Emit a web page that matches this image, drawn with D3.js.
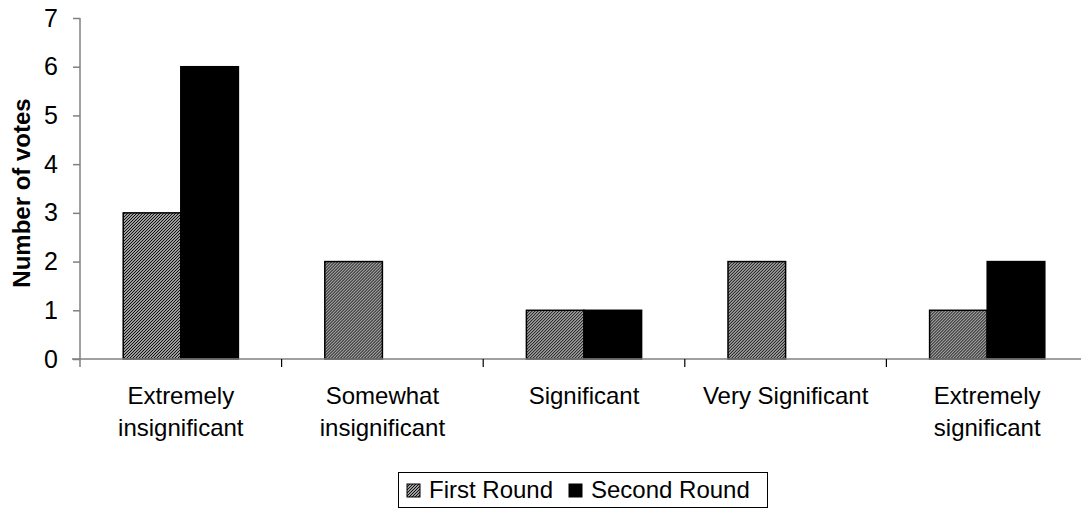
<!DOCTYPE html>
<html>
<head>
<meta charset="utf-8">
<script src="https://cdn.jsdelivr.net/npm/d3@7"></script>
<style>
  html, body { margin: 0; padding: 0; background: #fff; }
  svg { display: block; font-family: "Liberation Sans", Arial, sans-serif; }
</style>
</head>
<body>
<svg id="chart" width="1081" height="513"></svg>
<script>
// Vote counts per significance rating
const categories = [
  ["Extremely", "insignificant"],
  ["Somewhat", "insignificant"],
  ["Significant"],
  ["Very Significant"],
  ["Extremely", "significant"]
];
const seriesNames = ["First Round", "Second Round"];
const firstRound = [3, 2, 1, 2, 1];
const secondRound = [6, 0, 1, 0, 2];
const yTicks = [0, 1, 2, 3, 4, 5, 6, 7];

const svg = d3.select("#chart");
const catKeys = categories.map(c => c.join(" "));

const plot = { left: 80, top: 18, bottom: 359, step: 201.6 };

// fine hatched fill for the first series
const defs = svg.append("defs");
const pat = defs.append("pattern")
  .attr("id", "hatch")
  .attr("patternUnits", "userSpaceOnUse")
  .attr("width", 3).attr("height", 3);
pat.append("rect").attr("width", 3).attr("height", 3).attr("fill", "#9c9c9c");
pat.append("path")
  .attr("d", "M-1,1 l2,-2 M0,3 l3,-3 M2,4 l2,-2")
  .attr("stroke", "#111").attr("stroke-width", 1);

const x0 = d3.scaleBand()
  .domain(catKeys)
  .range([plot.left, plot.left + plot.step * catKeys.length])
  .padding(0);
const x1 = d3.scaleBand()
  .domain(seriesNames)
  .range([0, x0.bandwidth()])
  .paddingInner(0)
  .paddingOuter(0.75);
const y = d3.scaleLinear().domain([0, 7]).range([plot.bottom, plot.top]);

const fills = { "First Round": "url(#hatch)", "Second Round": "#000" };
const values = { "First Round": firstRound, "Second Round": secondRound };

// bars
const groups = svg.append("g").selectAll("g")
  .data(catKeys)
  .join("g")
  .attr("transform", d => `translate(${x0(d)},0)`);

groups.selectAll("rect")
  .data((d, i) => seriesNames.map(s => ({ s, v: values[s][i] })).filter(e => e.v > 0))
  .join("rect")
  .attr("x", d => x1(d.s))
  .attr("y", d => y(d.v))
  .attr("width", x1.bandwidth())
  .attr("height", d => y(0) - y(d.v))
  .attr("fill", d => fills[d.s])
  .attr("stroke", "#000")
  .attr("stroke-width", 1.5);

// y axis
const yAxis = svg.append("g")
  .attr("transform", `translate(${plot.left},0)`)
  .call(d3.axisLeft(y).tickValues(yTicks).tickFormat(d3.format("d")).tickSizeInner(7).tickSizeOuter(0).tickPadding(15));
yAxis.select(".domain").attr("stroke", "#808080").attr("stroke-width", 1.5)
  .attr("d", `M0,${plot.top}V${plot.bottom + 8}`);
yAxis.selectAll(".tick line").attr("stroke", "#808080").attr("stroke-width", 1.5);
yAxis.selectAll(".tick text").attr("font-size", 25).attr("fill", "#000");

// x axis
const xAxisG = svg.append("g").attr("transform", `translate(0,${plot.bottom})`);
xAxisG.append("line")
  .attr("x1", plot.left - 8).attr("x2", 1081)
  .attr("stroke", "#808080").attr("stroke-width", 1.5);
xAxisG.selectAll("line.tk")
  .data(catKeys.slice(1))
  .join("line")
  .attr("class", "tk")
  .attr("x1", d => x0(d)).attr("x2", d => x0(d))
  .attr("y1", 0).attr("y2", 8)
  .attr("stroke", "#000").attr("stroke-width", 1.2);

const labels = svg.append("g").selectAll("text")
  .data(categories)
  .join("text")
  .attr("text-anchor", "middle")
  .attr("font-size", 24)
  .attr("fill", "#000")
  .attr("transform", (d, i) => `translate(${x0(catKeys[i]) + x0.bandwidth() / 2},404)`);
labels.selectAll("tspan")
  .data(d => d)
  .join("tspan")
  .attr("x", 0)
  .attr("dy", (d, i) => i === 0 ? 0 : 32)
  .text(d => d);

// axis title
svg.append("text")
  .attr("transform", "translate(30,193) rotate(-90)")
  .attr("text-anchor", "middle")
  .attr("font-size", 24)
  .attr("font-weight", "bold")
  .text("Number of votes");

// legend
const legend = svg.append("g");
legend.append("rect")
  .attr("x", 398.5).attr("y", 472.5).attr("width", 369).attr("height", 35)
  .attr("fill", "#fff").attr("stroke", "#000").attr("stroke-width", 1);
const legendItems = [
  { s: "First Round", x: 407 },
  { s: "Second Round", x: 569 }
];
const li = legend.selectAll("g.item").data(legendItems).join("g")
  .attr("class", "item")
  .attr("transform", d => `translate(${d.x},484)`);
li.append("rect")
  .attr("width", 13).attr("height", 13)
  .attr("fill", d => fills[d.s])
  .attr("stroke", "#000").attr("stroke-width", 1);
li.append("text")
  .attr("x", 22).attr("y", 14)
  .attr("font-size", 24)
  .text(d => d.s);
</script>
</body>
</html>
